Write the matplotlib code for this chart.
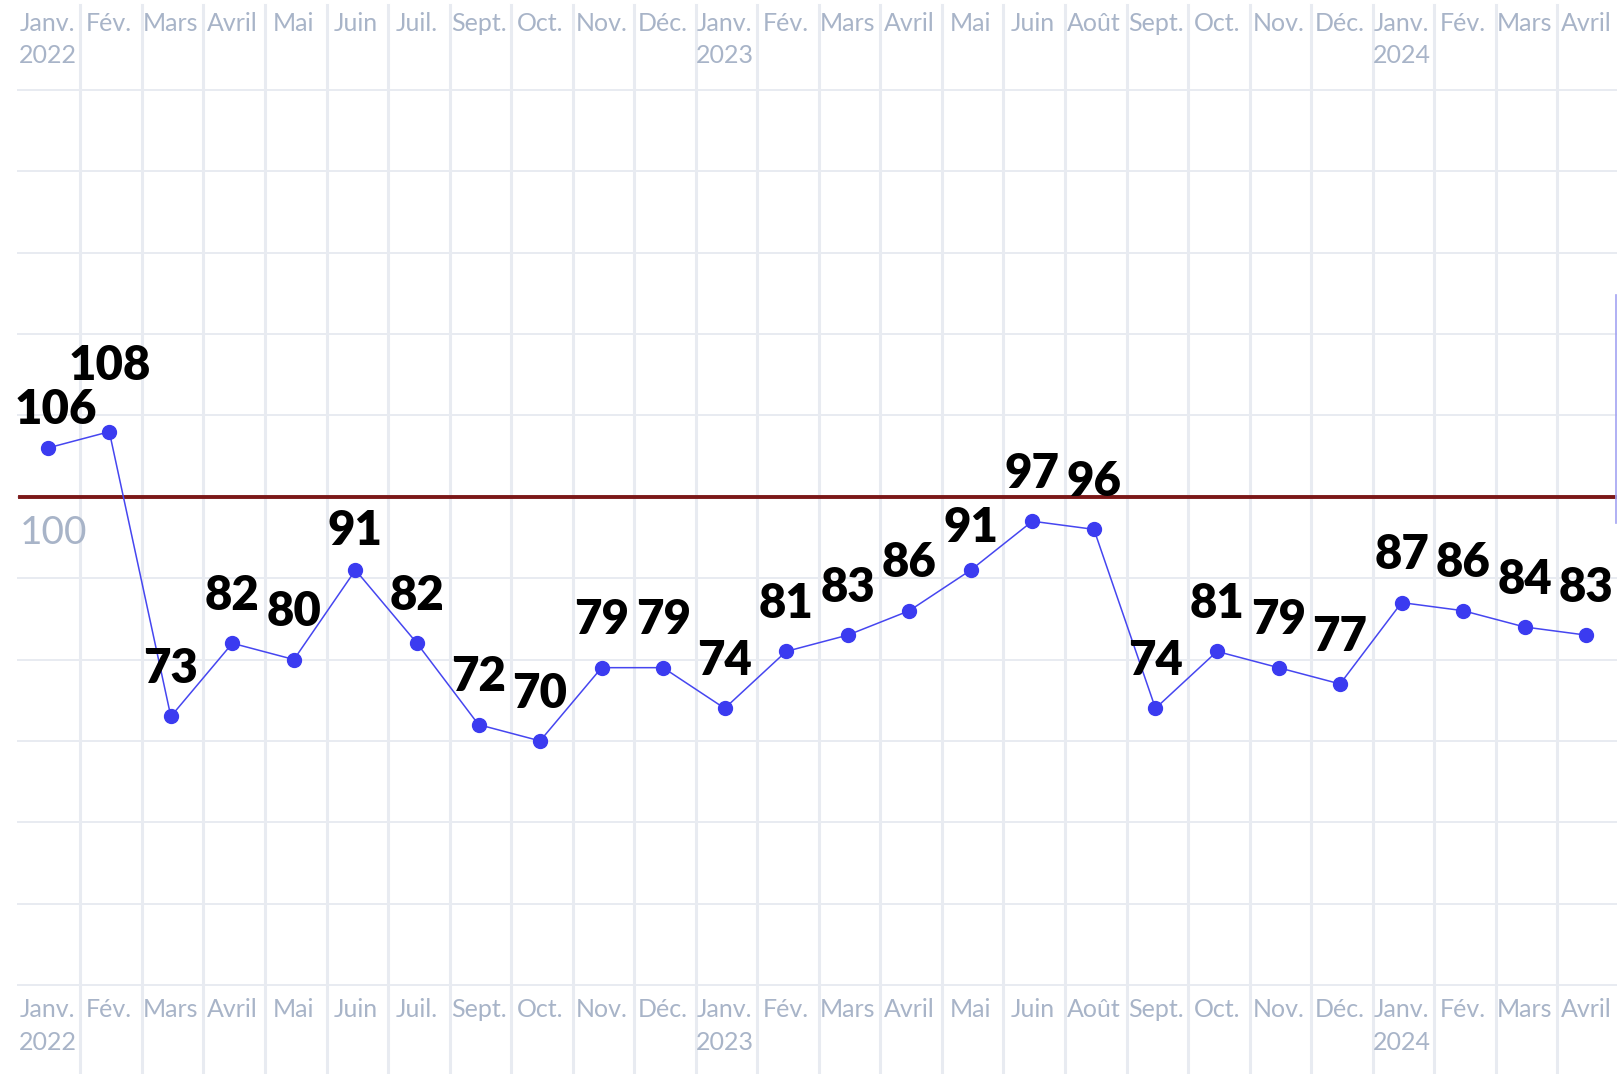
import matplotlib
matplotlib.use('Agg')
import matplotlib.pyplot as plt
import matplotlib.transforms as mtransforms

plt.rcParams['font.family'] = ['Lato', 'DejaVu Sans']

# data
months = ['Janv.', 'Fév.', 'Mars', 'Avril', 'Mai', 'Juin', 'Juil.', 'Sept.', 'Oct.',
          'Nov.', 'Déc.', 'Janv.', 'Fév.', 'Mars', 'Avril', 'Mai', 'Juin', 'Août',
          'Sept.', 'Oct.', 'Nov.', 'Déc.', 'Janv.', 'Fév.', 'Mars', 'Avril']
years = ['2022', '', '', '', '', '', '', '', '', '', '', '2023', '', '', '', '', '',
         '', '', '', '', '', '2024', '', '', '']
values = [106, 108, 73, 82, 80, 91, 82, 72, 70, 79, 79, 74, 81, 83, 86, 91, 97, 96,
          74, 81, 79, 77, 87, 86, 84, 83]
ref_value = 100
grid_values = list(range(40, 151, 10))

# a few labels sit a bit off the default spot (points: dx, dy)
label_nudge = {0: (6, -7), 1: (0, 13), 5: (0, -6), 15: (0, -4)}

W, H = 1617, 1074
fig = plt.figure(figsize=(W / 100, H / 100), dpi=100)
ax = fig.add_axes([17 / W, 0, 1 - 17 / W, 1])
n = len(values)
xs = list(range(n))
ax.set_xlim(-0.5, n - 0.5)
ax.set_ylim(29.06, 161.06)
ax.axis('off')

grid_col = '#e8ebf1'
label_col = '#a8b4c8'

ax.hlines(grid_values, -0.5, n - 0.5, color=grid_col, lw=1.4, zorder=0)
for i in range(n - 1):
    ax.axvline(i + 0.53, ymin=0, ymax=1 - 5 / H, color=grid_col, lw=2.2, zorder=0)

ax.axhline(ref_value, xmin=0.002, xmax=0.999, color='#7b1818', lw=2.8, zorder=2)
ax.text(-0.45, ref_value, '100', fontsize=28, color=label_col, ha='left', va='baseline',
        transform=ax.transData + mtransforms.ScaledTranslation(0, -34 / 72, fig.dpi_scale_trans))

# thin edge line on the right
ax.axvline(n - 0.51, ymin=1 - 523 / H, ymax=1 - 295 / H, color='#a3a3f2', lw=1.2)

ax.plot(xs, values, color='#4646f0', lw=1.1, marker='o', markersize=10,
        markerfacecolor='#3b3bf0', markeredgecolor='#3b3bf0', zorder=3)

for i, v in enumerate(values):
    dx, dy = label_nudge.get(i, (0, 0))
    ax.annotate(str(v), (i, v), xytext=(dx, 24 + dy), textcoords='offset points',
                ha='center', va='baseline', fontsize=34, fontweight='heavy',
                color='black', zorder=4)

trans = mtransforms.blended_transform_factory(ax.transData, ax.transAxes)
for i in range(n):
    for y1, y2 in [(1 - 31 / H, 1 - 63 / H), (1 - 1017 / H, 1 - 1050 / H)]:
        ax.text(i, y1, months[i], transform=trans, ha='center', va='baseline',
                fontsize=18, color=label_col)
        if years[i]:
            ax.text(i, y2, years[i], transform=trans, ha='center', va='baseline',
                    fontsize=18, color=label_col)

fig.savefig('out.png', dpi=100)
